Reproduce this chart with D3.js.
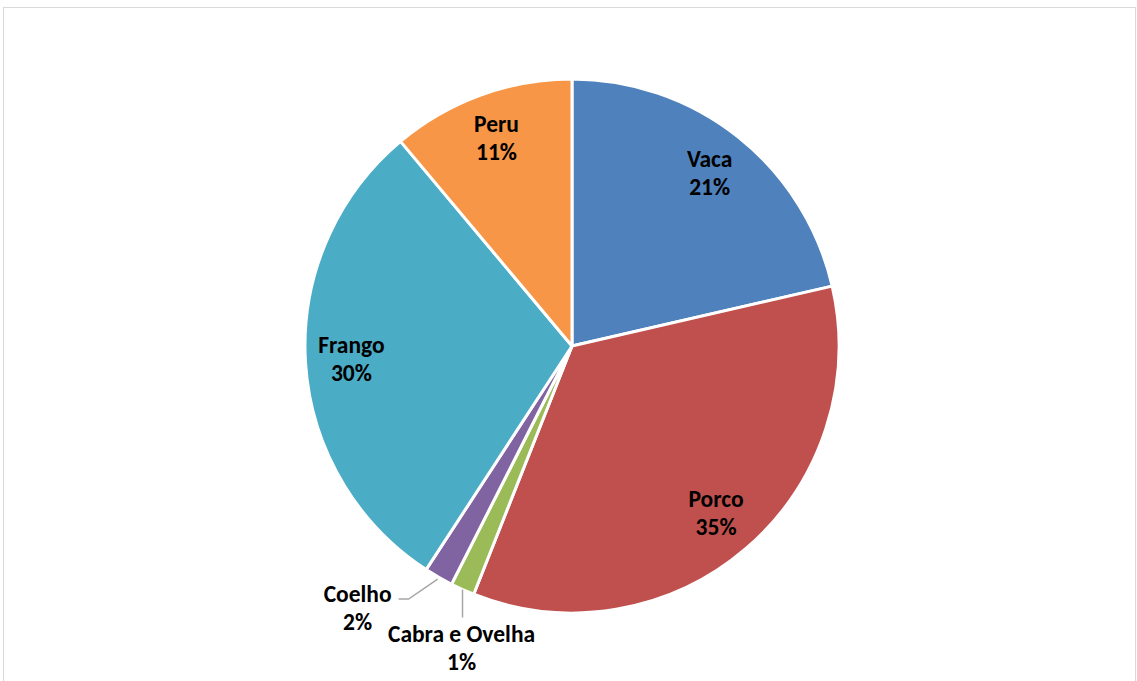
<!DOCTYPE html>
<html>
<head>
<meta charset="utf-8">
<script src="https://cdn.jsdelivr.net/npm/d3@7"></script>
<style>
  html, body { margin: 0; padding: 0; background: #ffffff; }
  svg { display: block; }
  text { font-family: Carlito, Calibri, Lato, "Open Sans", sans-serif; font-weight: bold; fill: #000; }
</style>
</head>
<body>
<svg id="chart" width="1137" height="681"></svg>
<script>
// Meat production share by animal
const categories = ["Vaca", "Porco", "Cabra e Ovelha", "Coelho", "Frango", "Peru"];
const shares = [21.4, 34.6, 1.45, 1.75, 29.7, 11.1];
const colors = ["#4F81BD", "#C0504D", "#9BBB59", "#8064A2", "#4BACC6", "#F79646"];

const W = 1137, H = 681;
const cx = 572, cy = 346, R = 267;
const svg = d3.select("#chart");

// chart area frame
svg.append("rect")
  .attr("x", 3.5).attr("y", 7.5)
  .attr("width", 1132).attr("height", H + 20)
  .attr("fill", "#fff")
  .attr("stroke", "#d9d9d9").attr("stroke-width", 1);

const data = categories.map((c, i) => ({ name: c, value: shares[i], color: colors[i] }));
const total = d3.sum(shares);

const pie = d3.pie().value(d => d.value).sort(null);
const arcs = pie(data);
const arc = d3.arc().innerRadius(0).outerRadius(R);

const g = svg.append("g").attr("transform", `translate(${cx},${cy})`);

g.selectAll("path.slice")
  .data(arcs)
  .enter().append("path")
  .attr("class", "slice")
  .attr("d", arc)
  .attr("fill", d => d.data.color)
  .attr("stroke", "#fff")
  .attr("stroke-width", 3)
  .attr("stroke-linejoin", "round");

const pct = d => Math.round(d.data.value / total * 100) + "%";
const fs = 23.5, lineGap = 28;

function twoLine(sel, x, yMid, a, b, anchor) {
  const t = g.append("text").attr("font-size", fs).attr("text-anchor", anchor || "middle");
  t.append("tspan").attr("x", x).attr("y", yMid - lineGap / 2 + 8.5).text(a);
  t.append("tspan").attr("x", x).attr("y", yMid + lineGap / 2 + 8.5).text(b);
}

const labelArc = d3.arc().innerRadius(221).outerRadius(221);
const rimPoint = (d, r) => {
  const m = (d.startAngle + d.endAngle) / 2;
  return [r * Math.sin(m), -r * Math.cos(m)];
};

arcs.forEach(d => {
  const share = d.data.value / total;
  if (share > 0.05) {
    const [x, y] = labelArc.centroid(d);
    twoLine(g, x, y - 1, d.data.name, pct(d));
  }
});

// small slices get outside labels with leader lines
const coelho = arcs[3], cabra = arcs[2];
{
  const [x0, y0] = rimPoint(coelho, 269);
  const ex = x0 - 29, ey = y0 + 20;
  g.append("polyline")
    .attr("points", [[x0, y0], [ex, ey], [ex - 10, ey]].map(p => p.join(",")).join(" "))
    .attr("fill", "none").attr("stroke", "#a6a6a6").attr("stroke-width", 1.5);
  twoLine(g, ex - 51, ey + 8, coelho.data.name, pct(coelho));
}
{
  const [x0, y0] = rimPoint(cabra, 267);
  g.append("line")
    .attr("x1", x0).attr("y1", y0).attr("x2", x0).attr("y2", y0 + 28)
    .attr("stroke", "#a6a6a6").attr("stroke-width", 1.5);
  twoLine(g, x0 - 1, y0 + 58, cabra.data.name, pct(cabra));
}
</script>
</body>
</html>
